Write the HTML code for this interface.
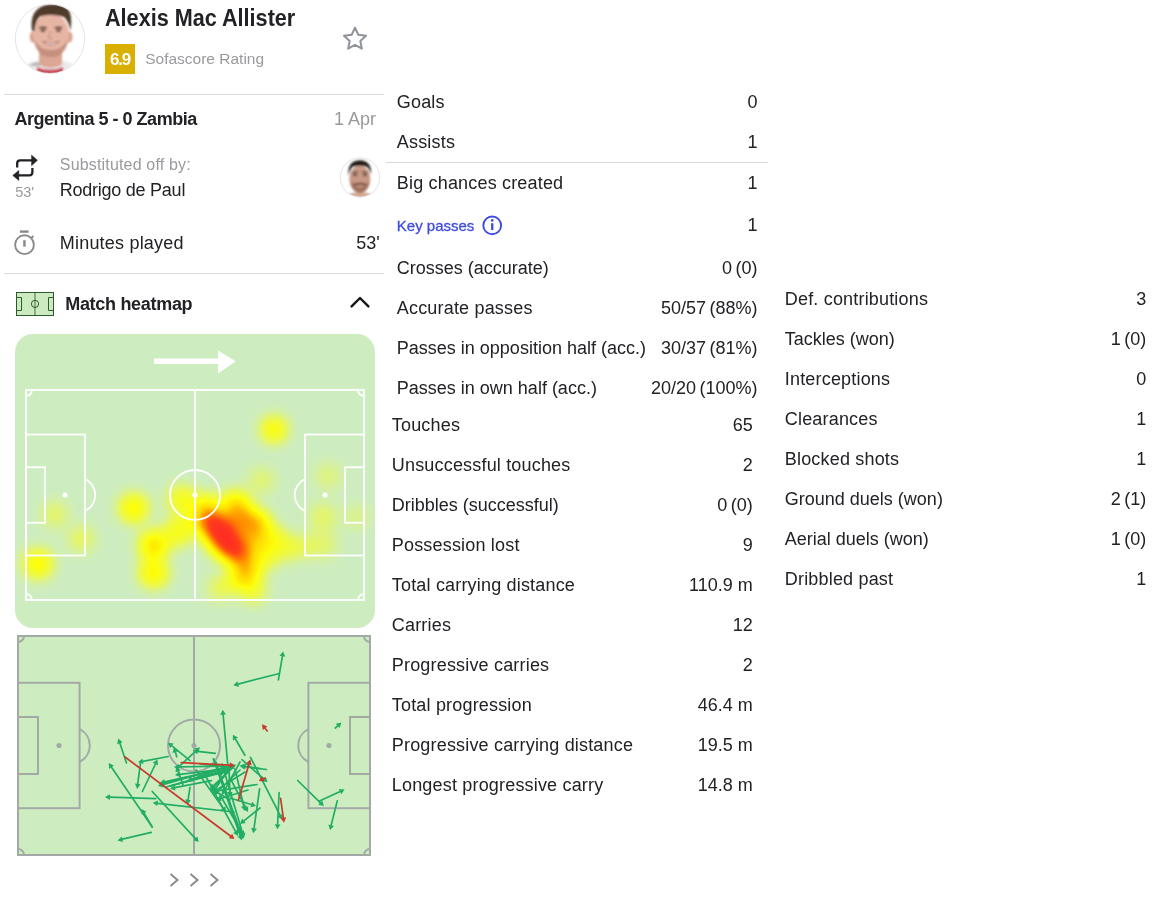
<!DOCTYPE html>
<html><head><meta charset="utf-8"><style>
html,body{margin:0;padding:0;background:#fff;}
body{width:1168px;height:900px;position:relative;overflow:hidden;font-family:"Liberation Sans",Arial,sans-serif;color:#222226;}
.t{position:absolute;white-space:nowrap;line-height:1;}
svg{position:absolute;left:0;top:0;}
</style></head><body>
<svg width="1168" height="900" viewBox="0 0 1168 900">
<rect x="4" y="94" width="380" height="1" fill="#d9d9d9"/>
<rect x="4" y="273" width="380" height="1" fill="#d9d9d9"/>
<rect x="386" y="162" width="382" height="1" fill="#d9d9d9"/>
<rect x="105" y="44" width="30" height="30" fill="#d9af00"/>
<polygon points="355.00,27.70 358.29,34.77 366.03,35.72 360.33,41.03 361.82,48.68 355.00,44.90 348.18,48.68 349.67,41.03 343.97,35.72 351.71,34.77" fill="none" stroke="#909399" stroke-width="2" stroke-linejoin="round"/>
<defs><clipPath id="av1"><circle cx="50" cy="38.8" r="34.2"/></clipPath><clipPath id="av2"><circle cx="360" cy="177.5" r="19.3"/></clipPath><filter id="soft" x="-20%" y="-20%" width="140%" height="140%"><feGaussianBlur stdDeviation="0.8"/></filter></defs>
<circle cx="50" cy="38.8" r="34.7" fill="#fff" stroke="#e4e4e4" stroke-width="1"/>
<g clip-path="url(#av1)"><g filter="url(#soft)"><path d="M20 72 Q26 62 38 60.5 L62 60.5 Q74 62 80 72 L80 80 L20 80 Z" fill="#eceaec"/><path d="M28 66 Q34 62 38 62 L40 66 Z" fill="#b8b6bc"/><path d="M37 67 Q50 72 63 67 L64 76 L36 76 Z" fill="#c9505a"/><path d="M39 48 L62 48 L62 65 Q50 71 39 65 Z" fill="#dba693"/><ellipse cx="32.8" cy="37" rx="3" ry="5.5" fill="#d8a08c"/><ellipse cx="69.5" cy="37" rx="3" ry="5.5" fill="#d8a08c"/><ellipse cx="51" cy="34.5" rx="18" ry="21.5" fill="#e6b5a3"/><path d="M34 40 Q36 56.5 51 57 Q66 56.5 68 40 Q62 50 51 50 Q40 50 34 40 Z" fill="#b5806c" opacity="0.7"/><path d="M32 31 Q29 11 44 5.5 Q58 2 67 8 Q73 14 70.5 31 Q68.5 21 64 17 Q52 13.5 40 16.5 Q35 21 34.5 31 Z" fill="#503a2c"/><ellipse cx="43" cy="27.8" rx="4.2" ry="1.4" fill="#6b4a3c"/><ellipse cx="58.5" cy="27.8" rx="4.2" ry="1.4" fill="#6b4a3c"/><ellipse cx="43" cy="30.8" rx="2.8" ry="1.1" fill="#4a3028"/><ellipse cx="58.5" cy="30.8" rx="2.8" ry="1.1" fill="#4a3028"/><path d="M50.5 31 L48.5 38.5 L53 38.5" fill="none" stroke="#c08c78" stroke-width="1"/><path d="M42.5 41.5 Q51 48.5 59.5 41.5 Q51 44.5 42.5 41.5 Z" fill="#ffffff" stroke="#9a5a4c" stroke-width="0.8"/></g></g>
<circle cx="360" cy="177.5" r="19.7" fill="#fff" stroke="#e4e4e4" stroke-width="1"/>
<g clip-path="url(#av2)"><g filter="url(#soft)"><path d="M349 194 Q360 190 371 194 L373 200 L347 200 Z" fill="#d4aa96"/><ellipse cx="359.8" cy="179" rx="10.4" ry="13.6" fill="#c79884"/><path d="M350.5 181 Q351.5 192.5 360 193.5 Q368.5 192.5 369.5 181 Q365 187 360 187 Q355 187 350.5 181 Z" fill="#8a5a48" opacity="0.6"/><path d="M353 184 Q360 181.5 367 184 L365.5 185.5 Q360 184 354.5 185.5 Z" fill="#5a3428" opacity="0.8"/><path d="M348.6 176 Q347 161 359.5 160.3 Q372 160.5 371 175 Q369.5 168 366 166.5 Q360 165 353 166.5 Q350 169 348.6 176 Z" fill="#231a17"/><ellipse cx="355" cy="175" rx="2.2" ry="1" fill="#3a2520"/><ellipse cx="365" cy="175" rx="2.2" ry="1" fill="#3a2520"/><path d="M352 172.5 L358 172.2 M362 172.2 L368 172.5" stroke="#3a2520" stroke-width="1.2"/></g></g>
<circle cx="492.2" cy="225.4" r="8.9" fill="none" stroke="#3f4be0" stroke-width="1.9"/>
<rect x="491.1" y="223.2" width="2.3" height="6.8" fill="#3f4be0"/><circle cx="492.25" cy="220.4" r="1.3" fill="#3f4be0"/>
<g fill="none" stroke="#222226" stroke-width="2.3" stroke-linecap="butt" stroke-linejoin="round"><path d="M17.2 167.6 V163.3 Q17.2 160.3 20.2 160.3 H32.6"/><path d="M32.4 168 V172.3 Q32.4 175.3 29.4 175.3 H18.2"/></g><path d="M31.6 155.2 L37.4 160.3 L31.6 165.6 Z" fill="#222226" stroke="#222226" stroke-width="0.6" stroke-linejoin="round"/><path d="M18.8 170.5 L12.8 175.4 L18.8 180.4 Z" fill="#222226" stroke="#222226" stroke-width="0.6" stroke-linejoin="round"/>
<g fill="none" stroke="#8a8a8e" stroke-width="1.9"><circle cx="24.5" cy="244.7" r="9.4"/><path d="M31.3 238 L33.3 236" stroke-width="2.2"/></g><rect x="19.9" y="230.4" width="8.7" height="2.4" fill="#8a8a8e"/><rect x="23.2" y="240.2" width="2.5" height="6.4" fill="#8a8a8e"/>
<rect x="16.5" y="292.5" width="37" height="23" fill="#cdebc0"/><rect x="34" y="293" width="2" height="22" fill="#86ad86"/><g stroke="#2f5a2f" stroke-width="1" fill="none"><rect x="16.5" y="292.5" width="37" height="23"/><circle cx="35" cy="303.9" r="3.6"/><path d="M16.5 297.5 H21.5 V310.5 H16.5"/><path d="M53.5 297.5 H48.5 V310.5 H53.5"/></g>
<path d="M351.6 306.4 L360 298 L368.4 306.4" fill="none" stroke="#141416" stroke-width="2.4" stroke-linecap="round" stroke-linejoin="round"/>
<path d="M170.5 874 L177.5 880 L170.5 886" fill="none" stroke="#8c8c8c" stroke-width="2"/>
<path d="M190.5 874 L197.5 880 L190.5 886" fill="none" stroke="#8c8c8c" stroke-width="2"/>
<path d="M210.5 874 L217.5 880 L210.5 886" fill="none" stroke="#8c8c8c" stroke-width="2"/>
<rect x="15" y="334" width="360" height="294" rx="18" ry="18" fill="#cdedc1"/>
<rect x="154" y="358.5" width="65" height="5.5" fill="#fff"/><path d="M218 350.4 L235.8 361.2 L218 373.4 Z" fill="#fff"/>
<defs><filter id="hm" x="0" y="0" width="100%" height="100%" color-interpolation-filters="sRGB"><feGaussianBlur in="SourceGraphic" stdDeviation="8"/><feColorMatrix type="matrix" values="0 0 0 1 0  0 0 0 1 0  0 0 0 1 0  0 0 0 1 0"/><feComponentTransfer><feFuncR type="table" tableValues="1 1 1 1 1 1 1"/><feFuncG type="table" tableValues="1 1 1 0.85 0.55 0.25 0.15"/><feFuncB type="table" tableValues="0 0 0 0 0 0.1 0.15"/><feFuncA type="table" tableValues="0 0.6 0.95 1 1 1 1"/></feComponentTransfer></filter><clipPath id="hmclip"><rect x="15" y="334" width="360" height="294" rx="18"/></clipPath></defs>
<g clip-path="url(#hmclip)"><g filter="url(#hm)"><rect x="15" y="334" width="360" height="294" fill="#fff" opacity="0"/><circle cx="274" cy="429.5" r="11.2" fill="#fff" fill-opacity="0.45"/><circle cx="328" cy="476" r="11.2" fill="#fff" fill-opacity="0.14"/><circle cx="323" cy="517" r="12.8" fill="#fff" fill-opacity="0.16"/><circle cx="323" cy="545" r="12.8" fill="#fff" fill-opacity="0.14"/><circle cx="357" cy="517" r="9.6" fill="#fff" fill-opacity="0.14"/><circle cx="261.6" cy="480.6" r="11.2" fill="#fff" fill-opacity="0.16"/><circle cx="213" cy="524" r="12.8" fill="#fff" fill-opacity="1.0"/><circle cx="220" cy="533" r="14.4" fill="#fff" fill-opacity="1.0"/><circle cx="228" cy="543" r="14.4" fill="#fff" fill-opacity="1.0"/><circle cx="235" cy="551" r="11.2" fill="#fff" fill-opacity="1.0"/><circle cx="226" cy="530" r="11.2" fill="#fff" fill-opacity="0.8"/><circle cx="236" cy="506" r="12.8" fill="#fff" fill-opacity="0.6"/><circle cx="256" cy="524" r="12.8" fill="#fff" fill-opacity="0.6"/><circle cx="247" cy="569" r="12.8" fill="#fff" fill-opacity="0.6"/><circle cx="207" cy="507" r="11.2" fill="#fff" fill-opacity="0.5"/><circle cx="250" cy="545" r="12.8" fill="#fff" fill-opacity="0.5"/><circle cx="244" cy="520" r="11.2" fill="#fff" fill-opacity="0.5"/><circle cx="238" cy="580" r="9.6" fill="#fff" fill-opacity="0.4"/><circle cx="178" cy="532" r="12.8" fill="#fff" fill-opacity="0.35"/><circle cx="182" cy="500" r="12.8" fill="#fff" fill-opacity="0.35"/><circle cx="196" cy="520" r="11.2" fill="#fff" fill-opacity="0.3"/><circle cx="272" cy="540" r="12.8" fill="#fff" fill-opacity="0.35"/><circle cx="253" cy="590" r="11.2" fill="#fff" fill-opacity="0.3"/><circle cx="268" cy="558" r="9.6" fill="#fff" fill-opacity="0.3"/><circle cx="133.7" cy="508.3" r="12.8" fill="#fff" fill-opacity="0.45"/><circle cx="153.7" cy="545.3" r="12.8" fill="#fff" fill-opacity="0.55"/><circle cx="153.7" cy="573" r="12.8" fill="#fff" fill-opacity="0.45"/><circle cx="220" cy="588" r="11.2" fill="#fff" fill-opacity="0.2"/><circle cx="38" cy="563.8" r="12.8" fill="#fff" fill-opacity="0.45"/><circle cx="81.3" cy="539" r="11.2" fill="#fff" fill-opacity="0.2"/><circle cx="55" cy="514.5" r="11.2" fill="#fff" fill-opacity="0.18"/><circle cx="290" cy="548" r="11.2" fill="#fff" fill-opacity="0.22"/><circle cx="305" cy="546" r="9.6" fill="#fff" fill-opacity="0.16"/></g></g>
<g fill="none" stroke="#fff" stroke-width="1.8"><rect x="26" y="390" width="338" height="210"/><line x1="195.0" y1="390" x2="195.0" y2="600"/><circle cx="195.0" cy="495.0" r="25"/><rect x="26" y="434.5" width="59" height="121"/><rect x="305" y="434.5" width="59" height="121"/><rect x="26" y="467.25" width="19" height="55.5"/><rect x="345" y="467.25" width="19" height="55.5"/><path d="M85 479.00 A17.58 17.58 0 0 1 85 511.00"/><path d="M305 479.00 A17.58 17.58 0 0 0 305 511.00"/><path d="M26 396 A6 6 0 0 0 32 390"/><path d="M358 390 A6 6 0 0 0 364 396"/><path d="M32 600 A6 6 0 0 0 26 594"/><path d="M364 594 A6 6 0 0 0 358 600"/></g><g fill="#fff" stroke="none"><circle cx="195.0" cy="495.0" r="2.6"/><circle cx="65" cy="495.0" r="2.6"/><circle cx="325" cy="495.0" r="2.6"/></g>
<rect x="18" y="636" width="352" height="219" fill="#cdedc1"/>
<g fill="none" stroke="#a3aaa6" stroke-width="2"><rect x="18" y="636" width="352" height="219"/><line x1="194.0" y1="636" x2="194.0" y2="855"/><circle cx="194.0" cy="745.5" r="26"/><rect x="18" y="682.8" width="61.6" height="125.4"/><rect x="308.4" y="682.8" width="61.6" height="125.4"/><rect x="18" y="717.0" width="20" height="57"/><rect x="350" y="717.0" width="20" height="57"/><path d="M79.6 729.20 A18.12 18.12 0 0 1 79.6 761.80"/><path d="M308.4 729.20 A18.12 18.12 0 0 0 308.4 761.80"/><path d="M18 642 A6 6 0 0 0 24 636"/><path d="M364 636 A6 6 0 0 0 370 642"/><path d="M24 855 A6 6 0 0 0 18 849"/><path d="M370 849 A6 6 0 0 0 364 855"/></g><g fill="#a3aaa6" stroke="none"><circle cx="194.0" cy="745.5" r="2.6"/><circle cx="59" cy="745.5" r="2.6"/><circle cx="329" cy="745.5" r="2.6"/></g>
<g stroke-linecap="round"><line x1="126.5" y1="763" x2="119.9" y2="743.2" stroke="#22ad65" stroke-width="1.7"/><path d="M118.3 738.5 L122.6 742.3 L117.1 744.2 Z" fill="#22ad65"/><line x1="155.8" y1="798.6" x2="110.0" y2="797.2" stroke="#22ad65" stroke-width="1.7"/><path d="M105 797 L110.1 794.3 L109.9 800.1 Z" fill="#22ad65"/><line x1="152.2" y1="827" x2="111.5" y2="767.2" stroke="#22ad65" stroke-width="1.7"/><path d="M108.7 763.1 L113.9 765.6 L109.1 768.9 Z" fill="#22ad65"/><line x1="151.3" y1="832.4" x2="122.4" y2="839.2" stroke="#22ad65" stroke-width="1.7"/><path d="M117.5 840.4 L121.7 836.4 L123.0 842.1 Z" fill="#22ad65"/><line x1="152.2" y1="827" x2="144.1" y2="813.3" stroke="#22ad65" stroke-width="1.7"/><path d="M141.5 809 L146.5 811.8 L141.6 814.8 Z" fill="#22ad65"/><line x1="168.2" y1="756.5" x2="142.9" y2="761.3" stroke="#22ad65" stroke-width="1.7"/><path d="M138 762.2 L142.4 758.4 L143.5 764.1 Z" fill="#22ad65"/><line x1="140.6" y1="762.2" x2="137.7" y2="783.9" stroke="#22ad65" stroke-width="1.7"/><path d="M137.1 788.9 L134.9 783.6 L140.6 784.3 Z" fill="#22ad65"/><line x1="142.4" y1="791.5" x2="155.4" y2="764.0" stroke="#22ad65" stroke-width="1.7"/><path d="M157.5 759.5 L158.0 765.3 L152.7 762.8 Z" fill="#22ad65"/><line x1="152.2" y1="791.5" x2="195.2" y2="838.3" stroke="#22ad65" stroke-width="1.7"/><path d="M198.6 842 L193.1 840.3 L197.4 836.4 Z" fill="#22ad65"/><line x1="234" y1="812" x2="157.7" y2="803.3" stroke="#22ad65" stroke-width="1.7"/><path d="M152.7 802.7 L158.0 800.4 L157.3 806.1 Z" fill="#22ad65"/><line x1="190" y1="760.7" x2="171.9" y2="745.9" stroke="#22ad65" stroke-width="1.7"/><path d="M168 742.7 L173.7 743.6 L170.0 748.1 Z" fill="#22ad65"/><line x1="176.7" y1="756.7" x2="175.4" y2="752.1" stroke="#22ad65" stroke-width="1.7"/><path d="M174 747.3 L178.2 751.3 L172.6 752.9 Z" fill="#22ad65"/><line x1="215.3" y1="753.3" x2="197.7" y2="751.3" stroke="#22ad65" stroke-width="1.7"/><path d="M192.7 750.7 L198.0 748.4 L197.3 754.2 Z" fill="#22ad65"/><line x1="176.7" y1="768.7" x2="196.3" y2="750.7" stroke="#22ad65" stroke-width="1.7"/><path d="M200 747.3 L198.3 752.8 L194.4 748.5 Z" fill="#22ad65"/><line x1="232.7" y1="764.7" x2="162.8" y2="784.6" stroke="#22ad65" stroke-width="1.7"/><path d="M158 786 L162.0 781.8 L163.6 787.4 Z" fill="#22ad65"/><line x1="228" y1="767.5" x2="164.9" y2="781.9" stroke="#22ad65" stroke-width="1.7"/><path d="M160 783 L164.2 779.1 L165.5 784.7 Z" fill="#22ad65"/><line x1="211.3" y1="780.7" x2="174.9" y2="787.7" stroke="#22ad65" stroke-width="1.7"/><path d="M170 788.7 L174.4 784.9 L175.5 790.6 Z" fill="#22ad65"/><line x1="226" y1="767.3" x2="192.0" y2="779.1" stroke="#22ad65" stroke-width="1.7"/><path d="M187.3 780.7 L191.1 776.3 L193.0 781.8 Z" fill="#22ad65"/><line x1="190" y1="787.3" x2="188.1" y2="799.8" stroke="#22ad65" stroke-width="1.7"/><path d="M187.3 804.7 L185.2 799.3 L190.9 800.2 Z" fill="#22ad65"/><line x1="214" y1="759.3" x2="241.6" y2="834.6" stroke="#22ad65" stroke-width="1.7"/><path d="M243.3 839.3 L238.9 835.6 L244.3 833.6 Z" fill="#22ad65"/><line x1="213.3" y1="758.7" x2="240.2" y2="835.7" stroke="#22ad65" stroke-width="1.7"/><path d="M241.8 840.4 L237.4 836.6 L242.9 834.7 Z" fill="#22ad65"/><line x1="244.9" y1="755.3" x2="235.4" y2="739.0" stroke="#22ad65" stroke-width="1.7"/><path d="M232.9 734.7 L237.9 737.6 L232.9 740.5 Z" fill="#22ad65"/><line x1="260" y1="768.7" x2="245.7" y2="766.7" stroke="#22ad65" stroke-width="1.7"/><path d="M240.7 766 L246.1 763.8 L245.2 769.6 Z" fill="#22ad65"/><line x1="227.7" y1="763.8" x2="223.1" y2="714.7" stroke="#22ad65" stroke-width="1.7"/><path d="M222.6 709.7 L226.0 714.4 L220.2 715.0 Z" fill="#22ad65"/><line x1="278.4" y1="673.7" x2="238.1" y2="684.1" stroke="#22ad65" stroke-width="1.7"/><path d="M233.3 685.3 L237.4 681.2 L238.9 686.9 Z" fill="#22ad65"/><line x1="278.4" y1="679.8" x2="282.4" y2="656.3" stroke="#22ad65" stroke-width="1.7"/><path d="M283.2 651.4 L285.2 656.8 L279.5 655.8 Z" fill="#22ad65"/><line x1="335.3" y1="728" x2="337.7" y2="725.9" stroke="#22ad65" stroke-width="1.7"/><path d="M341.4 722.6 L339.6 728.1 L335.7 723.7 Z" fill="#22ad65"/><line x1="297.7" y1="780.5" x2="320.2" y2="802.6" stroke="#22ad65" stroke-width="1.7"/><path d="M323.8 806.1 L318.2 804.7 L322.3 800.5 Z" fill="#22ad65"/><line x1="319" y1="801.3" x2="340.1" y2="791.6" stroke="#22ad65" stroke-width="1.7"/><path d="M344.6 789.5 L341.3 794.2 L338.8 789.0 Z" fill="#22ad65"/><line x1="337.3" y1="800.8" x2="331.2" y2="825.1" stroke="#22ad65" stroke-width="1.7"/><path d="M330 830 L328.4 824.4 L334.0 825.9 Z" fill="#22ad65"/><line x1="279.1" y1="792.7" x2="277.6" y2="824.3" stroke="#22ad65" stroke-width="1.7"/><path d="M277.4 829.3 L274.7 824.2 L280.5 824.4 Z" fill="#22ad65"/><line x1="250.5" y1="757.3" x2="280.0" y2="815.1" stroke="#22ad65" stroke-width="1.7"/><path d="M282.3 819.6 L277.4 816.5 L282.6 813.8 Z" fill="#22ad65"/><line x1="242" y1="759.7" x2="263.8" y2="778.9" stroke="#22ad65" stroke-width="1.7"/><path d="M267.6 782.2 L261.9 781.1 L265.8 776.7 Z" fill="#22ad65"/><line x1="259.6" y1="788.9" x2="254.0" y2="828.3" stroke="#22ad65" stroke-width="1.7"/><path d="M253.3 833.3 L251.1 827.9 L256.9 828.8 Z" fill="#22ad65"/><line x1="235" y1="765" x2="214.5" y2="786.4" stroke="#22ad65" stroke-width="1.7"/><path d="M211 790 L212.4 784.4 L216.6 788.4 Z" fill="#22ad65"/><line x1="240" y1="770" x2="217.6" y2="791.5" stroke="#22ad65" stroke-width="1.7"/><path d="M214 795 L215.6 789.4 L219.6 793.6 Z" fill="#22ad65"/><line x1="230" y1="800" x2="214.3" y2="790.6" stroke="#22ad65" stroke-width="1.7"/><path d="M210 788 L215.8 788.1 L212.8 793.1 Z" fill="#22ad65"/><line x1="234" y1="766" x2="163.9" y2="782.8" stroke="#22ad65" stroke-width="1.7"/><path d="M159 784 L163.2 780.0 L164.5 785.7 Z" fill="#22ad65"/><line x1="170" y1="786" x2="227.2" y2="769.4" stroke="#22ad65" stroke-width="1.7"/><path d="M232 768 L228.0 772.2 L226.4 766.6 Z" fill="#22ad65"/><line x1="266.4" y1="769.5" x2="244.5" y2="766.5" stroke="#22ad65" stroke-width="1.7"/><path d="M239.5 765.8 L244.8 763.6 L244.1 769.4 Z" fill="#22ad65"/><line x1="260" y1="808" x2="243.9" y2="820.9" stroke="#22ad65" stroke-width="1.7"/><path d="M240 824 L242.1 818.6 L245.7 823.1 Z" fill="#22ad65"/><line x1="205" y1="775" x2="235.6" y2="831.6" stroke="#22ad65" stroke-width="1.7"/><path d="M238 836 L233.1 833.0 L238.2 830.2 Z" fill="#22ad65"/><line x1="220" y1="795" x2="241.5" y2="831.7" stroke="#22ad65" stroke-width="1.7"/><path d="M244 836 L239.0 833.1 L244.0 830.2 Z" fill="#22ad65"/><line x1="230" y1="778" x2="245.7" y2="807.6" stroke="#22ad65" stroke-width="1.7"/><path d="M248 812 L243.1 808.9 L248.2 806.2 Z" fill="#22ad65"/><line x1="230" y1="798" x2="251.2" y2="804.5" stroke="#22ad65" stroke-width="1.7"/><path d="M256 806 L250.4 807.3 L252.1 801.8 Z" fill="#22ad65"/><line x1="196" y1="770" x2="223.1" y2="807.9" stroke="#22ad65" stroke-width="1.7"/><path d="M226 812 L220.7 809.6 L225.5 806.2 Z" fill="#22ad65"/><line x1="240" y1="762" x2="224.4" y2="790.6" stroke="#22ad65" stroke-width="1.7"/><path d="M222 795 L221.8 789.2 L226.9 792.0 Z" fill="#22ad65"/><line x1="248" y1="790" x2="220.8" y2="798.5" stroke="#22ad65" stroke-width="1.7"/><path d="M216 800 L219.9 795.7 L221.6 801.3 Z" fill="#22ad65"/><line x1="200" y1="764" x2="230.0" y2="767.4" stroke="#22ad65" stroke-width="1.7"/><path d="M235 768 L229.7 770.3 L230.4 764.6 Z" fill="#22ad65"/><line x1="232" y1="768" x2="213.6" y2="785.5" stroke="#22ad65" stroke-width="1.7"/><path d="M210 789 L211.6 783.4 L215.6 787.6 Z" fill="#22ad65"/><line x1="228" y1="770" x2="214.8" y2="789.8" stroke="#22ad65" stroke-width="1.7"/><path d="M212 794 L212.4 788.2 L217.2 791.4 Z" fill="#22ad65"/><line x1="245" y1="772" x2="217.2" y2="789.4" stroke="#22ad65" stroke-width="1.7"/><path d="M213 792 L215.7 786.9 L218.8 791.8 Z" fill="#22ad65"/><line x1="216" y1="762" x2="238.4" y2="829.3" stroke="#22ad65" stroke-width="1.7"/><path d="M240 834 L235.7 830.2 L241.2 828.3 Z" fill="#22ad65"/><line x1="222" y1="764" x2="242.6" y2="833.2" stroke="#22ad65" stroke-width="1.7"/><path d="M244 838 L239.8 834.0 L245.4 832.4 Z" fill="#22ad65"/><line x1="257" y1="784.5" x2="215.9" y2="791.2" stroke="#22ad65" stroke-width="1.7"/><path d="M211 792 L215.5 788.3 L216.4 794.1 Z" fill="#22ad65"/><line x1="235" y1="769" x2="243.8" y2="806.1" stroke="#22ad65" stroke-width="1.7"/><path d="M245 811 L241.0 806.8 L246.7 805.5 Z" fill="#22ad65"/><line x1="229" y1="768" x2="229.8" y2="792.0" stroke="#22ad65" stroke-width="1.7"/><path d="M230 797 L226.9 792.1 L232.7 791.9 Z" fill="#22ad65"/><line x1="170" y1="786" x2="225.2" y2="771.3" stroke="#22ad65" stroke-width="1.7"/><path d="M230 770 L225.9 774.1 L224.4 768.5 Z" fill="#22ad65"/><line x1="166" y1="787" x2="220.2" y2="773.2" stroke="#22ad65" stroke-width="1.7"/><path d="M225 772 L220.9 776.0 L219.4 770.4 Z" fill="#22ad65"/><line x1="183" y1="785" x2="178.2" y2="771.2" stroke="#22ad65" stroke-width="1.7"/><path d="M176.5 766.5 L180.9 770.3 L175.4 772.2 Z" fill="#22ad65"/><line x1="234" y1="766" x2="179.0" y2="766.9" stroke="#22ad65" stroke-width="1.7"/><path d="M174 767 L179.0 764.0 L179.0 769.8 Z" fill="#22ad65"/><line x1="233" y1="768" x2="180.0" y2="774.4" stroke="#22ad65" stroke-width="1.7"/><path d="M175 775 L179.6 771.5 L180.3 777.3 Z" fill="#22ad65"/><line x1="125" y1="757" x2="230.5" y2="836.0" stroke="#c93a2c" stroke-width="1.7"/><path d="M234.5 839 L228.8 838.3 L232.2 833.7 Z" fill="#c93a2c"/><line x1="181.3" y1="762.6" x2="229.7" y2="765.1" stroke="#c93a2c" stroke-width="1.7"/><path d="M234.7 765.4 L229.6 768.0 L229.9 762.2 Z" fill="#c93a2c"/><line x1="238.3" y1="800.5" x2="248.9" y2="764.4" stroke="#c93a2c" stroke-width="1.7"/><path d="M250.3 759.6 L251.7 765.2 L246.1 763.6 Z" fill="#c93a2c"/><line x1="267.2" y1="730.9" x2="265.1" y2="728.2" stroke="#c93a2c" stroke-width="1.7"/><path d="M262 724.3 L267.4 726.4 L262.8 730.0 Z" fill="#c93a2c"/><line x1="264.9" y1="778.2" x2="263.3" y2="778.9" stroke="#c93a2c" stroke-width="1.7"/><path d="M258.7 780.9 L262.1 776.2 L264.4 781.6 Z" fill="#c93a2c"/><line x1="280.6" y1="798.3" x2="283.3" y2="817.7" stroke="#c93a2c" stroke-width="1.7"/><path d="M284 822.7 L280.4 818.1 L286.2 817.3 Z" fill="#c93a2c"/></g>
</svg>
<div class="t" style="top:7px;left:105.2px;font-size:23px;font-weight:700;transform:scaleX(0.94);transform-origin:0 0;">Alexis Mac Allister</div>
<div class="t" style="top:51px;left:120.0px;font-size:17px;font-weight:700;color:#fff;letter-spacing:-1.2px;transform:translateX(-50%);">6.9</div>
<div class="t" style="top:51px;left:145.2px;font-size:15.5px;color:#9a9a9e;">Sofascore Rating</div>
<div class="t" style="top:110px;left:14.6px;font-size:18px;font-weight:700;letter-spacing:-0.5px;">Argentina 5 - 0 Zambia</div>
<div class="t" style="top:110px;right:792.0px;font-size:18px;color:#9a9a9e;">1 Apr</div>
<div class="t" style="top:185px;left:15.2px;font-size:14.5px;color:#9a9a9e;">53'</div>
<div class="t" style="top:157px;left:59.8px;font-size:16px;color:#9a9a9e;letter-spacing:0.17px;">Substituted off by:</div>
<div class="t" style="top:181px;left:59.8px;font-size:18px;letter-spacing:-0.25px;">Rodrigo de Paul</div>
<div class="t" style="top:234px;left:59.8px;font-size:18px;letter-spacing:0.2px;">Minutes played</div>
<div class="t" style="top:234px;right:788.4px;font-size:18px;">53'</div>
<div class="t" style="top:295px;left:65.2px;font-size:18px;font-weight:700;letter-spacing:-0.3px;">Match heatmap</div>
<div class="t" style="top:93px;left:396.8px;font-size:18px;letter-spacing:0.18px;">Goals</div>
<div class="t" style="top:93px;right:410.4px;font-size:18px;">0</div>
<div class="t" style="top:133px;left:396.8px;font-size:18px;letter-spacing:0.18px;">Assists</div>
<div class="t" style="top:133px;right:410.4px;font-size:18px;">1</div>
<div class="t" style="top:174px;left:396.8px;font-size:18px;letter-spacing:0.18px;">Big chances created</div>
<div class="t" style="top:174px;right:410.4px;font-size:18px;">1</div>
<div class="t" style="top:216px;right:410.4px;font-size:18px;">1</div>
<div class="t" style="top:259px;left:396.8px;font-size:18px;">Crosses (accurate)</div>
<div class="t" style="top:259px;right:410.4px;font-size:18px;word-spacing:-1.5px;">0 (0)</div>
<div class="t" style="top:299px;left:396.8px;font-size:18px;letter-spacing:0.18px;">Accurate passes</div>
<div class="t" style="top:299px;right:410.4px;font-size:18px;word-spacing:-1.5px;">50/57 (88%)</div>
<div class="t" style="top:339px;left:396.8px;font-size:18px;">Passes in opposition half (acc.)</div>
<div class="t" style="top:339px;right:410.4px;font-size:18px;word-spacing:-1.5px;">30/37 (81%)</div>
<div class="t" style="top:379px;left:396.8px;font-size:18px;">Passes in own half (acc.)</div>
<div class="t" style="top:379px;right:410.4px;font-size:18px;word-spacing:-1.5px;">20/20 (100%)</div>
<div class="t" style="top:218px;left:396.8px;font-size:15px;color:#3f4be0;-webkit-text-stroke:0.3px #3f4be0;">Key passes</div>
<div class="t" style="top:416px;left:391.8px;font-size:18px;letter-spacing:0.18px;">Touches</div>
<div class="t" style="top:416px;right:415.2px;font-size:18px;">65</div>
<div class="t" style="top:456px;left:391.8px;font-size:18px;letter-spacing:0.18px;">Unsuccessful touches</div>
<div class="t" style="top:456px;right:415.2px;font-size:18px;">2</div>
<div class="t" style="top:496px;left:391.8px;font-size:18px;">Dribbles (successful)</div>
<div class="t" style="top:496px;right:415.2px;font-size:18px;word-spacing:-1.5px;">0 (0)</div>
<div class="t" style="top:536px;left:391.8px;font-size:18px;letter-spacing:0.18px;">Possession lost</div>
<div class="t" style="top:536px;right:415.2px;font-size:18px;">9</div>
<div class="t" style="top:576px;left:391.8px;font-size:18px;letter-spacing:0.18px;">Total carrying distance</div>
<div class="t" style="top:576px;right:415.2px;font-size:18px;">110.9 m</div>
<div class="t" style="top:616px;left:391.8px;font-size:18px;letter-spacing:0.18px;">Carries</div>
<div class="t" style="top:616px;right:415.2px;font-size:18px;">12</div>
<div class="t" style="top:656px;left:391.8px;font-size:18px;letter-spacing:0.18px;">Progressive carries</div>
<div class="t" style="top:656px;right:415.2px;font-size:18px;">2</div>
<div class="t" style="top:696px;left:391.8px;font-size:18px;letter-spacing:0.18px;">Total progression</div>
<div class="t" style="top:696px;right:415.2px;font-size:18px;">46.4 m</div>
<div class="t" style="top:736px;left:391.8px;font-size:18px;letter-spacing:0.18px;">Progressive carrying distance</div>
<div class="t" style="top:736px;right:415.2px;font-size:18px;">19.5 m</div>
<div class="t" style="top:776px;left:391.8px;font-size:18px;letter-spacing:0.18px;">Longest progressive carry</div>
<div class="t" style="top:776px;right:415.2px;font-size:18px;">14.8 m</div>
<div class="t" style="top:290px;left:784.8px;font-size:18px;letter-spacing:0.18px;">Def. contributions</div>
<div class="t" style="top:290px;right:21.8px;font-size:18px;">3</div>
<div class="t" style="top:330px;left:784.8px;font-size:18px;">Tackles (won)</div>
<div class="t" style="top:330px;right:21.8px;font-size:18px;word-spacing:-1.5px;">1 (0)</div>
<div class="t" style="top:370px;left:784.8px;font-size:18px;letter-spacing:0.18px;">Interceptions</div>
<div class="t" style="top:370px;right:21.8px;font-size:18px;">0</div>
<div class="t" style="top:410px;left:784.8px;font-size:18px;letter-spacing:0.18px;">Clearances</div>
<div class="t" style="top:410px;right:21.8px;font-size:18px;">1</div>
<div class="t" style="top:450px;left:784.8px;font-size:18px;letter-spacing:0.18px;">Blocked shots</div>
<div class="t" style="top:450px;right:21.8px;font-size:18px;">1</div>
<div class="t" style="top:490px;left:784.8px;font-size:18px;">Ground duels (won)</div>
<div class="t" style="top:490px;right:21.8px;font-size:18px;word-spacing:-1.5px;">2 (1)</div>
<div class="t" style="top:530px;left:784.8px;font-size:18px;">Aerial duels (won)</div>
<div class="t" style="top:530px;right:21.8px;font-size:18px;word-spacing:-1.5px;">1 (0)</div>
<div class="t" style="top:570px;left:784.8px;font-size:18px;letter-spacing:0.18px;">Dribbled past</div>
<div class="t" style="top:570px;right:21.8px;font-size:18px;">1</div>
</body></html>
